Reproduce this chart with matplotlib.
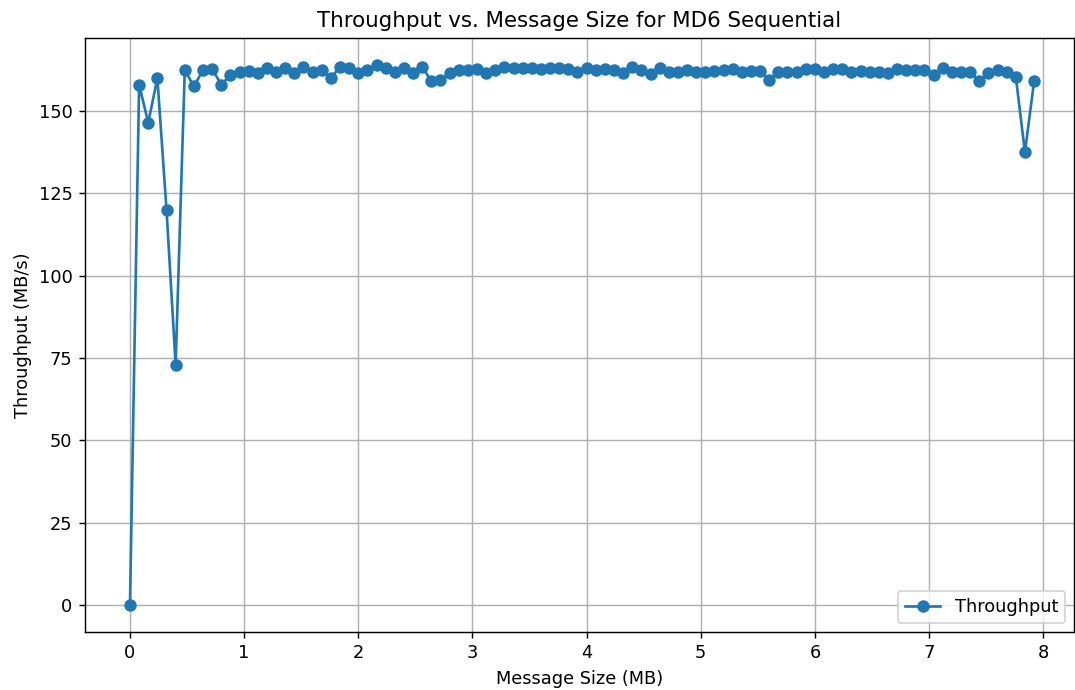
import matplotlib
matplotlib.use("Agg")
import matplotlib.pyplot as plt
import numpy as np

step_mb = 0.08
throughput = [
    0, 158, 146.5, 160, 120, 73, 162.5, 157.5, 162.5, 162.8,
    158, 161, 162, 162.2, 161.5, 163, 162, 163, 161.5, 163.5,
    162, 162.5, 160, 163.5, 163, 161.5, 162.5, 164, 163, 162,
    163, 161.5, 163.5, 159, 159.5, 161.5, 162.5, 162.5, 162.8, 161.5,
    162.5, 163.5, 163, 163, 163.2, 162.8, 163, 163.2, 162.8, 162,
    163, 162.5, 162.8, 162.5, 161.5, 163.3, 162.5, 161.3, 163, 161.8,
    162, 162.5, 162, 161.8, 162.2, 162.5, 162.7, 161.8, 162.3, 162.3,
    159.5, 162, 162, 161.8, 162.8, 162.8, 162, 162.8, 162.8, 162,
    162.3, 161.8, 162, 161.5, 162.8, 162.5, 162.5, 162.5, 161, 163,
    162, 162, 162, 159, 161.5, 162.5, 162, 160.5, 137.5, 159,
]
message_size = [round(i * step_mb, 2) for i in range(len(throughput))]

DPI = 128
fig = plt.figure(figsize=(1075 / DPI, 690 / DPI), dpi=DPI)
ax = fig.add_axes([85/1075, 1-632/690, (1074-85)/1075, (632-38)/690])
ax.plot(message_size, throughput, marker='o', label='Throughput')
ax.set_xlim(-0.394, 8.27)
ax.set_title('Throughput vs. Message Size for MD6 Sequential')
ax.set_xlabel('Message Size (MB)')
ax.set_ylabel('Throughput (MB/s)')
ax.grid(True)
ax.legend(loc='lower right')
fig.savefig('out.png', dpi=DPI)
